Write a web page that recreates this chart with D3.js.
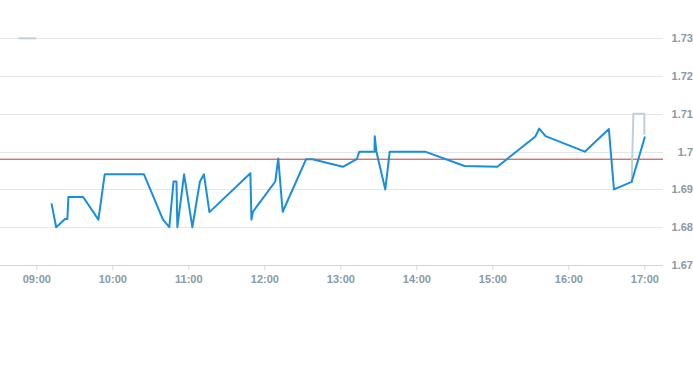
<!DOCTYPE html>
<html>
<head>
<meta charset="utf-8">
<script src="https://cdn.jsdelivr.net/npm/d3@7"></script>
<style>
  html, body { margin: 0; padding: 0; background: #fff; }
  svg { display: block; }
  text { font-family: "Liberation Sans", Arial, sans-serif; }
</style>
</head>
<body>
<svg id="chart" width="693" height="365"></svg>
<script>
// ---- data ----
const priceSeries = [
  ["09:12", 1.6863], ["09:15:40", 1.6800], ["09:22:40", 1.6822], ["09:24:30", 1.6822],
  ["09:25:20", 1.6880], ["09:37", 1.6880], ["09:49", 1.6820], ["09:54", 1.6940],
  ["10:25", 1.6940], ["10:40", 1.6820], ["10:45", 1.6800], ["10:48:20", 1.6921],
  ["10:50:40", 1.6921], ["10:51:20", 1.6800], ["10:56:40", 1.6940], ["11:03:10", 1.6800],
  ["11:09:10", 1.6921], ["11:12:20", 1.6940], ["11:16:40", 1.6840], ["11:49", 1.6943],
  ["11:49:50", 1.6820], ["11:51", 1.6841], ["12:08:40", 1.6921], ["12:11", 1.6982],
  ["12:14:30", 1.6841], ["12:33", 1.6980], ["12:38", 1.6980], ["13:02", 1.6960],
  ["13:13", 1.6980], ["13:15", 1.7000], ["13:27", 1.7000], ["13:27:10", 1.7041],
  ["13:28:30", 1.7000], ["13:35:30", 1.6900], ["13:39", 1.7000], ["14:07", 1.7000],
  ["14:38", 1.6962], ["15:04", 1.6960], ["15:34", 1.7040], ["15:37", 1.7061],
  ["15:42", 1.7041], ["16:13", 1.7000], ["16:32", 1.7060], ["16:36", 1.6900],
  ["16:50", 1.6920], ["17:00:30", 1.7040]
];
const secondarySegA = [["08:46", 1.7300], ["09:00", 1.7300]];
const secondarySegB = [["16:50", 1.6920], ["16:51:20", 1.7100], ["17:00", 1.7100], ["17:00", 1.7045]];
const referenceLevel = 1.698;
const yTickValues = [1.67, 1.68, 1.69, 1.70, 1.71, 1.72, 1.73];
const yTickLabels = ["1.67", "1.68", "1.69", "1.7", "1.71", "1.72", "1.73"];
const xTickLabels = ["09:00", "10:00", "11:00", "12:00", "13:00", "14:00", "15:00", "16:00", "17:00"];
const xDomain = ["08:31:20", "17:14:44"];

// ---- helpers ----
function parseT(s) {
  const p = s.split(":").map(Number);
  return new Date(2024, 0, 2, p[0], p[1], p[2] || 0);
}

const svg = d3.select("#chart");
const plotLeft = 0, plotRight = 663, plotTop = 38.3, plotBottom = 265;

const x = d3.scaleTime().domain(xDomain.map(parseT)).range([plotLeft, plotRight]);
const y = d3.scaleLinear().domain([1.67, 1.73]).range([plotBottom, plotTop]);

const labelColor = "#8a99a8";

// grid lines
svg.append("g").selectAll("line").data(yTickValues.filter(v => v !== 1.67)).join("line")
  .attr("x1", plotLeft).attr("x2", plotRight)
  .attr("y1", d => Math.round(y(d)) + 0.5).attr("y2", d => Math.round(y(d)) + 0.5)
  .attr("stroke", "#e6e6e6").attr("stroke-width", 1);

// y labels (right side)
svg.append("g").selectAll("text").data(yTickValues).join("text")
  .attr("x", 693).attr("y", d => y(d) + 4)
  .attr("text-anchor", "end")
  .attr("font-size", 11).attr("font-weight", "bold").attr("fill", labelColor)
  .text((d, i) => yTickLabels[i]);

// x axis
const xTicks = xTickLabels.map(parseT);
const xAxis = d3.axisBottom(x).tickValues(xTicks).tickSize(5).tickPadding(5)
  .tickFormat((d, i) => xTickLabels[i]);
const gx = svg.append("g").attr("transform", `translate(0,${Math.round(plotBottom) + 0.5})`).call(xAxis);
gx.select(".domain").attr("stroke", "#ccd6eb").attr("d", `M${plotLeft},0H${plotRight}`);
gx.selectAll(".tick line").attr("stroke", "#ccd6eb");
gx.selectAll(".tick text").attr("fill", labelColor).attr("font-size", 11).attr("font-weight", "bold")
  .attr("font-family", "'Liberation Sans', Arial, sans-serif");

// reference line
svg.append("line")
  .attr("x1", plotLeft).attr("x2", plotRight)
  .attr("y1", y(referenceLevel)).attr("y2", y(referenceLevel))
  .attr("stroke", "#cc3333").attr("stroke-width", 1);

const line = d3.line().x(d => x(parseT(d[0]))).y(d => y(d[1]));

// secondary gray series
[secondarySegA, secondarySegB].forEach(seg => {
  svg.append("path").datum(seg).attr("d", line)
    .attr("fill", "none").attr("stroke", "#c4ced8").attr("stroke-width", 2)
    .attr("stroke-linejoin", "round");
});

// main series
svg.append("path").datum(priceSeries).attr("d", line)
  .attr("fill", "none").attr("stroke", "#1a8edb").attr("stroke-width", 2)
  .attr("stroke-linejoin", "round");
</script>
</body>
</html>
